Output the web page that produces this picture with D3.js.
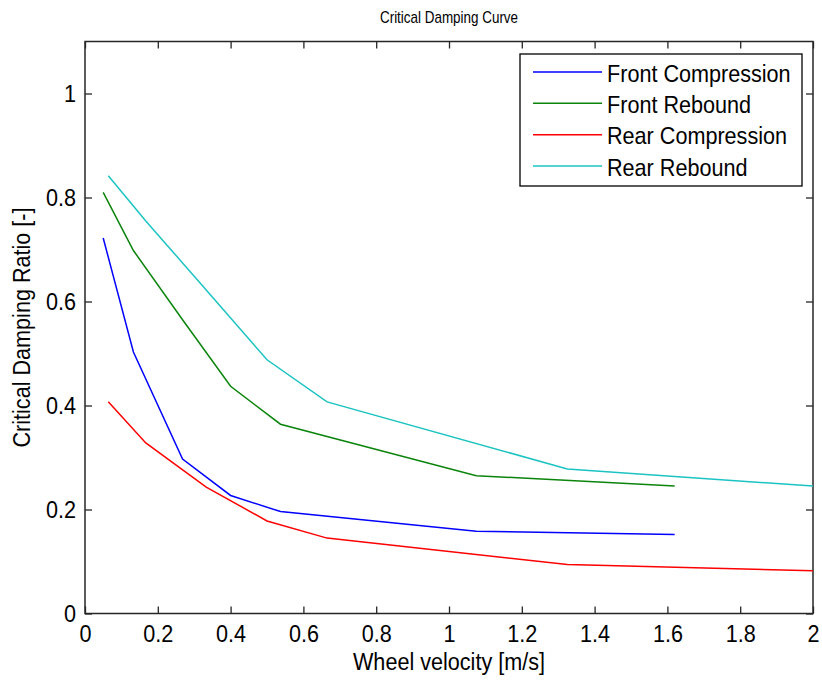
<!DOCTYPE html>
<html>
<head>
<meta charset="utf-8">
<script src="https://cdn.jsdelivr.net/npm/d3@7"></script>
<style>
  html, body { margin: 0; padding: 0; background: #fff; }
  svg { display: block; }
  text { font-family: "Liberation Sans", Arial, sans-serif; fill: #000; }
</style>
</head>
<body>
<svg id="chart" width="822" height="680"></svg>
<script>
// Wheel velocity sample points [m/s]
const frontVelocity = [0.05, 0.133, 0.268, 0.40, 0.537, 1.075, 1.62];
const rearVelocity  = [0.064, 0.167, 0.333, 0.50, 0.665, 1.325, 2.0];

// Critical damping ratio [-] at each velocity
const frontCompression = [0.722, 0.503, 0.297, 0.227, 0.196, 0.158, 0.152];
const frontRebound     = [0.810, 0.698, 0.565, 0.437, 0.364, 0.265, 0.245];
const rearCompression  = [0.407, 0.328, 0.243, 0.178, 0.145, 0.094, 0.082];
const rearRebound      = [0.842, 0.755, 0.622, 0.488, 0.407, 0.278, 0.245];

const seriesNames = ["Front Compression", "Front Rebound", "Rear Compression", "Rear Rebound"];
const seriesColors = ["#0000ff", "#0a840a", "#ff0000", "#1cc3c3"];

const xTicks = [0, 0.2, 0.4, 0.6, 0.8, 1, 1.2, 1.4, 1.6, 1.8, 2];
const yTicks = [0, 0.2, 0.4, 0.6, 0.8, 1];

const series = [
  { name: seriesNames[0], color: seriesColors[0], xs: frontVelocity, ys: frontCompression },
  { name: seriesNames[1], color: seriesColors[1], xs: frontVelocity, ys: frontRebound },
  { name: seriesNames[2], color: seriesColors[2], xs: rearVelocity,  ys: rearCompression },
  { name: seriesNames[3], color: seriesColors[3], xs: rearVelocity,  ys: rearRebound }
];

const svg = d3.select("#chart");
const plotLeft = 85, plotRight = 813, plotTop = 41.5, plotBottom = 613.5;

const x = d3.scaleLinear().domain([0, 2]).range([plotLeft, plotRight]);
const y = d3.scaleLinear().domain([0, 1.1]).range([plotBottom, plotTop]);
const fmt = d3.format("~g");
const tickLen = 7;
const axisColor = "#262626";

// Narrow, tall lettering: large size, squeezed horizontally
const fontSize = 24;
const squeeze = 0.9;

// Axes: ticks point into the plot on all four sides
const gBottom = svg.append("g").attr("transform", `translate(0,${plotBottom})`)
  .call(d3.axisBottom(x).tickValues(xTicks).tickFormat(fmt).tickSizeInner(-tickLen).tickSizeOuter(0).tickPadding(11));
const gTop = svg.append("g").attr("transform", `translate(0,${plotTop})`)
  .call(d3.axisTop(x).tickValues(xTicks).tickFormat("").tickSizeInner(-tickLen).tickSizeOuter(0));
const gLeft = svg.append("g").attr("transform", `translate(${plotLeft},0)`)
  .call(d3.axisLeft(y).tickValues(yTicks).tickFormat(fmt).tickSizeInner(-tickLen).tickSizeOuter(0).tickPadding(9));
const gRight = svg.append("g").attr("transform", `translate(${plotRight},0)`)
  .call(d3.axisRight(y).tickValues(yTicks).tickFormat("").tickSizeInner(-tickLen).tickSizeOuter(0));

[gBottom, gTop, gLeft, gRight].forEach(g => {
  g.select(".domain").remove();
  g.selectAll(".tick line").attr("stroke", axisColor).attr("stroke-width", 1.3);
  g.selectAll(".tick text")
    .attr("font-size", fontSize)
    .attr("font-family", "Liberation Sans, Arial, sans-serif")
    .attr("fill", "#000")
    .attr("x", function () { return (+d3.select(this).attr("x") || 0) / squeeze; })
    .attr("transform", `scale(${squeeze},1)`);
});

// Plot frame
svg.append("rect")
  .attr("x", plotLeft).attr("y", plotTop)
  .attr("width", plotRight - plotLeft).attr("height", plotBottom - plotTop)
  .attr("fill", "none").attr("stroke", axisColor).attr("stroke-width", 1.5);

// Curves
const line = d3.line().x(d => x(d[0])).y(d => y(d[1]));
svg.append("g").selectAll("path")
  .data(series)
  .join("path")
  .attr("d", s => line(s.xs.map((v, i) => [v, s.ys[i]])))
  .attr("fill", "none")
  .attr("stroke", s => s.color)
  .attr("stroke-width", 1.5);

// Title and axis labels
svg.append("text")
  .attr("transform", `translate(${(plotLeft + plotRight) / 2},23) scale(0.84,1)`)
  .attr("text-anchor", "middle").attr("font-size", 16)
  .text("Critical Damping Curve");

svg.append("text")
  .attr("transform", `translate(${(plotLeft + plotRight) / 2},670) scale(${squeeze},1)`)
  .attr("text-anchor", "middle").attr("font-size", fontSize)
  .text("Wheel velocity [m/s]");

svg.append("text")
  .attr("transform", `translate(30,${(plotTop + plotBottom) / 2}) rotate(-90) scale(${squeeze},1)`)
  .attr("text-anchor", "middle").attr("font-size", fontSize)
  .text("Critical Damping Ratio [-]");

// Legend
const legend = svg.append("g");
legend.append("rect")
  .attr("x", 520).attr("y", 54).attr("width", 282).attr("height", 132)
  .attr("fill", "#fff").attr("stroke", "#000").attr("stroke-width", 1.3);
const rowY = d3.scaleLinear().domain([0, 3]).range([72, 166]);
const rows = legend.selectAll("g.row").data(series).join("g").attr("class", "row")
  .attr("transform", (d, i) => `translate(0,${rowY(i)})`);
rows.append("line")
  .attr("x1", 533).attr("x2", 602).attr("y1", 0).attr("y2", 0)
  .attr("stroke", d => d.color).attr("stroke-width", 1.5);
rows.append("text")
  .attr("transform", `translate(607,9.5) scale(${squeeze},1)`)
  .attr("font-size", fontSize)
  .text(d => d.name);
</script>
</body>
</html>
